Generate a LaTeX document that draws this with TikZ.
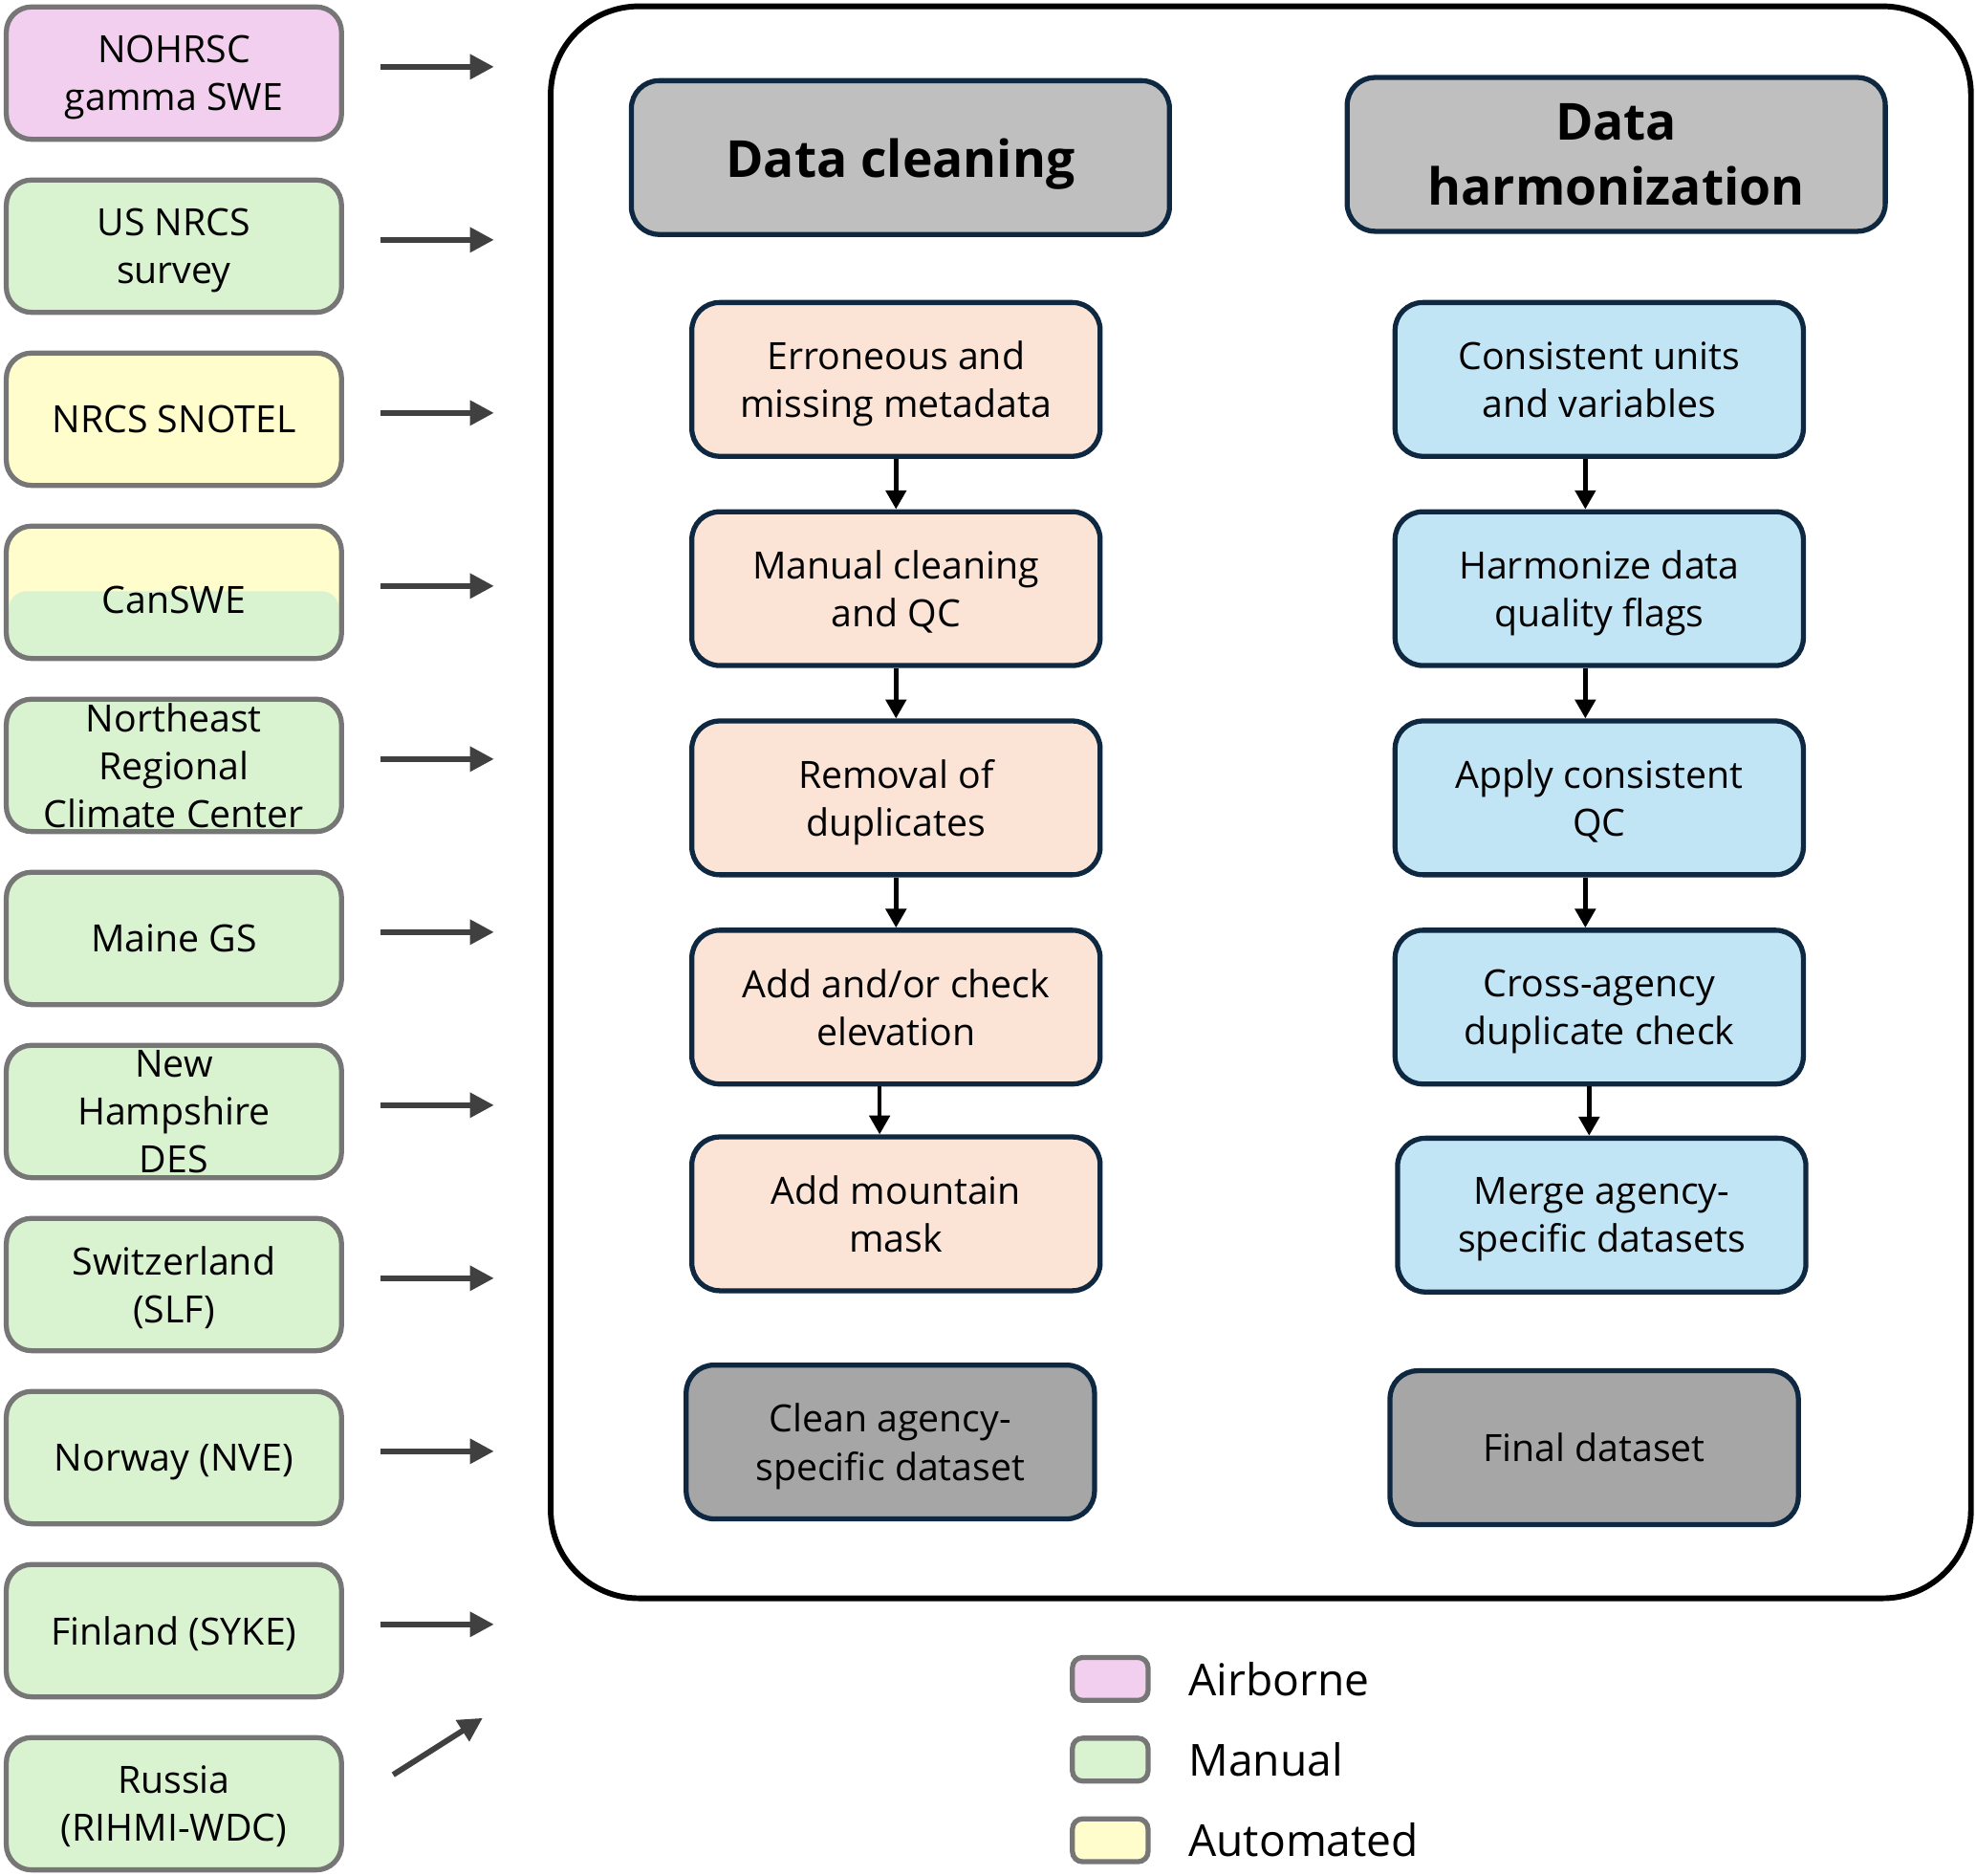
\documentclass[tikz,border=0pt]{standalone}
\usepackage{fontspec}
\setmainfont{Open Sans}
\usetikzlibrary{arrows.meta,calc}
\definecolor{srcborder}{HTML}{767676}
\definecolor{airpink}{HTML}{F2CFEE}
\definecolor{mangreen}{HTML}{D9F2D0}
\definecolor{autoyellow}{HTML}{FFFDCC}
\definecolor{navy}{HTML}{0E2841}
\definecolor{peach}{HTML}{FBE3D6}
\definecolor{lblue}{HTML}{C1E5F5}
\definecolor{hdrgray}{HTML}{BFBFBF}
\definecolor{outgray}{HTML}{A6A6A6}
\definecolor{arrgray}{HTML}{404040}
\begin{document}
\begin{tikzpicture}[x=1pt,y=-1pt,
 src/.style={draw=srcborder, line width=4pt, rounded corners=20pt, minimum width=266pt, minimum height=105pt, inner sep=0pt, text depth=0pt, align=center, font=\fontsize{29.8}{38}\selectfont},
 proc/.style={draw=navy, line width=4pt, rounded corners=22pt, minimum width=324pt, minimum height=122pt, inner sep=0pt, text depth=0pt, align=center, font=\fontsize{29.8}{38}\selectfont},
 hdr/.style={proc, fill=hdrgray, minimum width=427pt, font=\fontsize{40.5}{52}\selectfont\bfseries},
 srcarrow/.style={draw=arrgray, line width=4.5pt, -{Triangle[length=19pt,width=19pt]}},
 flow/.style={draw=black, line width=3.5pt, -{Triangle[length=15pt,width=16pt]}},
 legbox/.style={draw=srcborder, line width=4pt, rounded corners=8pt, minimum width=60pt, minimum height=34pt, inner sep=0pt},
 legtext/.style={anchor=west, inner sep=0pt, font=\fontsize{35}{42}\selectfont}
]
\useasboundingbox (0,0) rectangle (1568,1488);

% container
\draw[line width=4.5pt, rounded corners=70pt] (437,5) rectangle (1564,1268);

% source boxes
\node[src, fill=airpink] (s1) at (138,58) {NOHRSC\\gamma SWE};
\node[src, fill=mangreen] (s2) at (138,195.3) {US NRCS\\survey};
\node[src, fill=autoyellow] (s3) at (138,332.6) {NRCS SNOTEL};
\fill[autoyellow, rounded corners=20pt] (5,417.4) rectangle (271,522.4);
\begin{scope}
\clip[rounded corners=20pt] (5,417.4) rectangle (271,522.4);
\fill[mangreen, rounded corners=14pt] (7,469) rectangle (269,545);
\end{scope}
\node[src] (s4) at (138,469.9) {};
\node[inner sep=0pt, font=\fontsize{29.8}{38}\selectfont] (s4t) at (138,476) {CanSWE};
\node[src, fill=mangreen] (s5) at (138,607.2) {Northeast\\Regional\\Climate Center};
\node[src, fill=mangreen] (s6) at (138,744.5) {Maine GS};
\node[src, fill=mangreen] (s7) at (138,881.8) {New\\Hampshire\\DES};
\node[src, fill=mangreen] (s8) at (138,1019.1) {Switzerland\\(SLF)};
\node[src, fill=mangreen] (s9) at (138,1156.4) {Norway (NVE)};
\node[src, fill=mangreen] (s10) at (138,1293.7) {Finland (SYKE)};
\node[src, fill=mangreen] (s11) at (138,1431) {Russia\\(RIHMI-WDC)};

\foreach \i in {1,...,10}{
  \draw[srcarrow] ($(s\i.east)+(29,-5)$) -- ($(s\i.east)+(119,-5)$);
}
\draw[srcarrow] ($(s11.east)+(39,-23)$) -- ($(s11.east)+(110,-68)$);

% headers
\node[hdr] (hc) at (714.5,125) {Data cleaning};
\node[hdr, text depth=] (hh) at (1282.5,122.5) {Data\\harmonization};

% cleaning column
\node[proc, fill=peach] (c1) at (711,301) {Erroneous and\\missing metadata};
\node[proc, fill=peach] (c2) at (711,467) {Manual cleaning\\and QC};
\node[proc, fill=peach] (c3) at (711,633) {Removal of\\duplicates};
\node[proc, fill=peach] (c4) at (711,799) {Add and/or check\\elevation};
\node[proc, fill=peach] (c5) at (711,963) {Add mountain\\mask};
\node[proc, fill=outgray] (c6) at (706.5,1144) {Clean agency-\\specific dataset};

% harmonization column
\node[proc, fill=lblue] (h1) at (1269,301) {Consistent units\\and variables};
\node[proc, fill=lblue] (h2) at (1269,467) {Harmonize data\\quality flags};
\node[proc, fill=lblue] (h3) at (1269,633) {Apply consistent\\QC};
\node[proc, fill=lblue] (h4) at (1269,799) {Cross-agency\\duplicate check};
\node[proc, fill=lblue] (h5) at (1271,964) {Merge agency-\\specific datasets};
\node[proc, fill=outgray] (h6) at (1265,1148.5) {Final dataset};

% flow arrows
\draw[flow] (c1.south) -- (c2.north);
\draw[flow] (c2.south) -- (c3.north);
\draw[flow] (c3.south) -- (c4.north);
\draw[flow] ([xshift=-13pt]c4.south) -- ([xshift=-13pt]c5.north);
\draw[flow] ([xshift=-11pt]h1.south) -- ([xshift=-11pt]h2.north);
\draw[flow] ([xshift=-11pt]h2.south) -- ([xshift=-11pt]h3.north);
\draw[flow] ([xshift=-11pt]h3.south) -- ([xshift=-11pt]h4.north);
\draw[flow] ([xshift=-8pt]h4.south) -- ([xshift=-10pt]h5.north);

% legend
\node[legbox, fill=airpink] (l1) at (881,1332) {};
\node[legbox, fill=mangreen] (l2) at (881,1396) {};
\node[legbox, fill=autoyellow] (l3) at (881,1460) {};
\node[legtext] (t1) at (943,1332) {Airborne};
\node[legtext] (t2) at (943,1396) {Manual};
\node[legtext] (t3) at (943,1460) {Automated};
\end{tikzpicture}
\end{document}
